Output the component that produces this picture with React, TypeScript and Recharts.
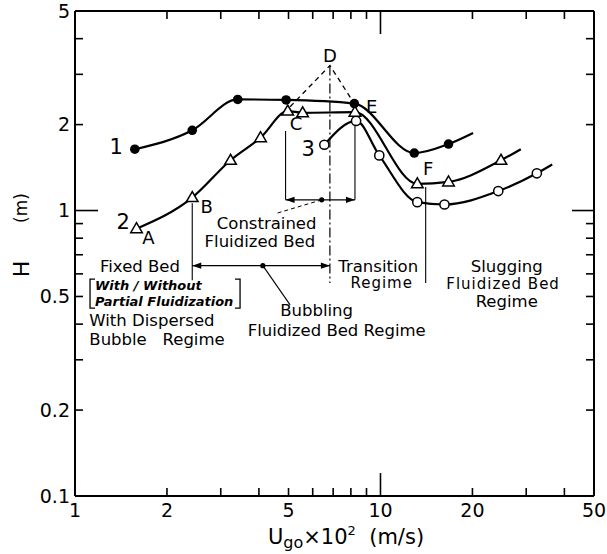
import React from 'react';
import { ComposedChart, Line, XAxis, YAxis, ReferenceDot } from 'recharts';

const FONT = '"DejaVu Sans", "Liberation Sans", Arial, sans-serif';

// axis ticks (log-log)
const xTicks = [1, 2, 3, 4, 5, 6, 7, 8, 9, 10, 20, 30, 40, 50];
const xLabels = [1, 2, 5, 10, 20, 50];
const yTicks = [0.1, 0.2, 0.3, 0.4, 0.5, 0.6, 0.7, 0.8, 0.9, 1, 2, 3, 4, 5];
const yLabels = [0.1, 0.2, 0.5, 1, 2, 5];

// curve 1 (filled circles), curve 2 (triangles), curve 3 (open circles)
const curve1 = [
  { x: 1.57, y: 1.64 }, { x: 2.42, y: 1.91 }, { x: 3.41, y: 2.45 }, { x: 4.91, y: 2.44 },
  { x: 8.21, y: 2.37 }, { x: 12.9, y: 1.59 }, { x: 16.7, y: 1.71 }, { x: 20.1, y: 1.87 },
];
const curve2 = [
  { x: 1.59, y: 0.864 }, { x: 2.42, y: 1.11 }, { x: 3.23, y: 1.5 }, { x: 4.05, y: 1.8 },
  { x: 4.97, y: 2.23 }, { x: 5.56, y: 2.2 }, { x: 8.25, y: 2.21 }, { x: 13.2, y: 1.24 },
  { x: 16.7, y: 1.26 }, { x: 24.8, y: 1.5 }, { x: 28.8, y: 1.64 },
];
const curve3 = [
  { x: 6.55, y: 1.7 }, { x: 8.32, y: 2.06 }, { x: 9.91, y: 1.56 }, { x: 13.2, y: 1.07 },
  { x: 16.2, y: 1.05 }, { x: 24.3, y: 1.17 }, { x: 32.5, y: 1.35 }, { x: 36.5, y: 1.45 },
];

// construction lines
const peakD = [{ x: 5.06, y: 2.31 }, { x: 6.83, y: 3.22 }, { x: 8.21, y: 2.37 }];
const dropD = [{ x: 6.83, y: 3.22 }, { x: 6.83, y: 0.557 }];
const guides = [
  [{ x: 2.42, y: 1.06 }, { x: 2.42, y: 0.57 }],
  [{ x: 4.89, y: 1.9 }, { x: 4.89, y: 1.09 }],
  [{ x: 8.25, y: 2.03 }, { x: 8.25, y: 1.09 }],
  [{ x: 14.06, y: 1.21 }, { x: 14.06, y: 0.557 }],
  [{ x: 4.12, y: 0.641 }, { x: 5.06, y: 0.467 }],
];
const constrainedLeader = [{ x: 6.42, y: 1.09 }, { x: 4.57, y: 0.978 }];
const arrows = [
  [{ x: 4.89, y: 1.09 }, { x: 8.25, y: 1.09 }],
  [{ x: 2.42, y: 0.641 }, { x: 6.83, y: 0.641 }],
];
const arrowCenters = [{ x: 6.42, y: 1.09 }, { x: 4.12, y: 0.641 }];
const brackets = [
  [{ x: 1.163, y: 0.575 }, { x: 1.12, y: 0.575 }, { x: 1.12, y: 0.455 }, { x: 1.163, y: 0.455 }],
  [{ x: 3.34, y: 0.575 }, { x: 3.47, y: 0.575 }, { x: 3.47, y: 0.455 }, { x: 3.34, y: 0.455 }],
];

// text annotations
const curveTags = [
  { x: 1.363, y: 1.669, t: '1' },
  { x: 1.439, y: 0.914, t: '2' },
  { x: 5.8, y: 1.64, t: '3' },
];
const pointTags = [
  { x: 1.738, y: 0.806, t: 'A' },
  { x: 2.7, y: 1.037, t: 'B' },
  { x: 5.29, y: 2.01, t: 'C' },
  { x: 6.83, y: 3.5, t: 'D' },
  { x: 9.36, y: 2.31, t: 'E' },
  { x: 14.34, y: 1.405, t: 'F' },
];
const regionTexts = [
  { x: 4.24, y: 0.902, t: 'Constrained' },
  { x: 4.03, y: 0.777, t: 'Fluidized Bed' },
  { x: 1.632, y: 0.636, t: 'Fixed Bed' },
  { x: 6.18, y: 0.446, t: 'Bubbling' },
  { x: 7.19, y: 0.381, t: 'Fluidized Bed Regime' },
  { x: 9.83, y: 0.639, t: 'Transition' },
  { x: 25.9, y: 0.639, t: 'Slugging' },
  { x: 25.9, y: 0.479, t: 'Regime' },
];
const smallTexts = [
  { x: 10.09, y: 0.556, t: 'Regime' },
  { x: 25.2, y: 0.551, t: 'Fluidized Bed' },
];
const leftTexts = [
  { x: 1.114, y: 0.4135, t: 'With Dispersed' },
  { x: 1.114, y: 0.352, t: 'Bubble   Regime' },
];
const boldTexts = [
  { x: 1.163, y: 0.548, t: 'With / Without' },
  { x: 1.163, y: 0.482, t: 'Partial Fluidization' },
];

const textShape = (t: string, size: number, anchor: string, extra: any = {}) => (p: any) => (
  <text
    x={p.cx}
    y={p.cy}
    textAnchor={anchor}
    dominantBaseline="central"
    fontSize={size}
    fontFamily={FONT}
    fill="#000"
    style={{ whiteSpace: 'pre' }}
    {...extra}
  >
    {t}
  </text>
);

const filledDot = (last: number) => (p: any) =>
  p.index === last ? <g key={`f${p.index}`} /> : <circle key={`f${p.index}`} cx={p.cx} cy={p.cy} r={4.8} fill="#000" />;

const openDot = (last: number) => (p: any) =>
  p.index === last ? <g key={`o${p.index}`} /> : (
    <circle key={`o${p.index}`} cx={p.cx} cy={p.cy} r={4.6} fill="#fff" stroke="#000" strokeWidth={1.5} />
  );

const triDot = (last: number) => (p: any) =>
  p.index === last ? <g key={`t${p.index}`} /> : (
    <path
      key={`t${p.index}`}
      d={`M${p.cx},${p.cy - 6} L${p.cx - 5.8},${p.cy + 4} L${p.cx + 5.8},${p.cy + 4} Z`}
      fill="#fff"
      stroke="#000"
      strokeWidth={1.5}
    />
  );

const arrowDot = (p: any) => {
  const dir = p.index === 0 ? -1 : 1;
  return (
    <path
      key={`a${p.index}`}
      d={`M${p.cx},${p.cy} L${p.cx - dir * 9},${p.cy - 3.2} L${p.cx - dir * 9},${p.cy + 3.2} Z`}
      fill="#000"
    />
  );
};

const BottomTick = (props: any) => {
  const { x, y, payload } = props;
  const v = payload.value;
  const len = v === 10 ? 23 : 8;
  return (
    <g>
      {v !== 1 && v !== 50 && <line x1={x} x2={x} y1={y} y2={y - len} stroke="#000" strokeWidth={1.6} />}
      {xLabels.includes(v) && (
        <text x={x} y={y + 21} textAnchor="middle" fontSize={19} fontFamily={FONT} fill="#000">
          {v}
        </text>
      )}
    </g>
  );
};

const TopTick = (props: any) => {
  const { x, y, payload } = props;
  const v = payload.value;
  if (v === 1 || v === 50) return <g />;
  const len = v === 10 ? 23 : 8;
  return <line x1={x} x2={x} y1={y} y2={y + len} stroke="#000" strokeWidth={1.6} />;
};

const LeftTick = (props: any) => {
  const { x, y, payload } = props;
  const v = payload.value;
  const len = v === 1 ? 23 : 8;
  return (
    <g>
      {v !== 0.1 && v !== 5 && <line x1={x} x2={x + len} y1={y} y2={y} stroke="#000" strokeWidth={1.6} />}
      {yLabels.includes(v) && (
        <text x={x - 5} y={y} dy="0.36em" textAnchor="end" fontSize={19} fontFamily={FONT} fill="#000">
          {v}
        </text>
      )}
    </g>
  );
};

const RightTick = (props: any) => {
  const { x, y, payload } = props;
  const v = payload.value;
  if (v === 0.1 || v === 5) return <g />;
  const len = v === 1 ? 22 : 8;
  return <line x1={x} x2={x - len} y1={y} y2={y} stroke="#000" strokeWidth={1.6} />;
};

const frame = { stroke: '#000', strokeWidth: 2 };

export default function App() {
  return (
    <div style={{ position: 'absolute', left: 0, top: 0, width: 607, height: 554, background: '#fff' }}>
      <ComposedChart width={607} height={554} margin={{ top: 10, right: 12, bottom: 0, left: 0 }}>
        <XAxis
          xAxisId={0}
          dataKey="x"
          type="number"
          scale="log"
          domain={[1, 50]}
          allowDataOverflow
          ticks={xTicks}
          interval={0}
          height={58}
          tickSize={0}
          tickMargin={0}
          tickLine={false}
          axisLine={frame}
          tick={(p: any) => <BottomTick {...p} />}
        />
        <XAxis
          xAxisId="top"
          orientation="top"
          dataKey="x"
          type="number"
          scale="log"
          domain={[1, 50]}
          allowDataOverflow
          ticks={xTicks}
          interval={0}
          height={1}
          tickSize={0}
          tickMargin={0}
          tickLine={false}
          axisLine={frame}
          tick={(p: any) => <TopTick {...p} />}
        />
        <YAxis
          yAxisId={0}
          type="number"
          scale="log"
          domain={[0.1, 5]}
          allowDataOverflow
          ticks={yTicks}
          interval={0}
          width={75}
          tickSize={0}
          tickMargin={0}
          tickLine={false}
          axisLine={frame}
          tick={(p: any) => <LeftTick {...p} />}
        />
        <YAxis
          yAxisId="right"
          orientation="right"
          type="number"
          scale="log"
          domain={[0.1, 5]}
          allowDataOverflow
          ticks={yTicks}
          interval={0}
          width={1}
          tickSize={0}
          tickMargin={0}
          tickLine={false}
          axisLine={frame}
          tick={(p: any) => <RightTick {...p} />}
        />

        {guides.map((g, i) => (
          <Line key={`g${i}`} data={g} dataKey="y" type="linear" stroke="#000" strokeWidth={1.1} dot={false} activeDot={false} isAnimationActive={false} />
        ))}
        {brackets.map((g, i) => (
          <Line key={`b${i}`} data={g} dataKey="y" type="linear" stroke="#000" strokeWidth={1.3} dot={false} activeDot={false} isAnimationActive={false} />
        ))}
        <Line data={constrainedLeader} dataKey="y" type="linear" stroke="#000" strokeWidth={1} strokeDasharray="4 3" dot={false} activeDot={false} isAnimationActive={false} />
        <Line data={dropD} dataKey="y" type="linear" stroke="#000" strokeWidth={1.2} strokeDasharray="10 3 2 3" dot={false} activeDot={false} isAnimationActive={false} />
        <Line data={peakD} dataKey="y" type="linear" stroke="#000" strokeWidth={1.3} strokeDasharray="5 4" dot={false} activeDot={false} isAnimationActive={false} />
        {arrows.map((g, i) => (
          <Line key={`ar${i}`} data={g} dataKey="y" type="linear" stroke="#000" strokeWidth={1.3} dot={arrowDot} activeDot={false} isAnimationActive={false} />
        ))}

        <Line data={curve3} dataKey="y" type="monotone" stroke="#000" strokeWidth={2.2} dot={openDot(curve3.length - 1)} activeDot={false} isAnimationActive={false} />
        <Line data={curve2} dataKey="y" type="monotone" stroke="#000" strokeWidth={2.2} dot={triDot(curve2.length - 1)} activeDot={false} isAnimationActive={false} />
        <Line data={curve1} dataKey="y" type="monotone" stroke="#000" strokeWidth={2.2} dot={filledDot(curve1.length - 1)} activeDot={false} isAnimationActive={false} />

        {arrowCenters.map((c, i) => (
          <ReferenceDot key={`c${i}`} x={c.x} y={c.y} r={2.6} fill="#000" stroke="none" />
        ))}
        {curveTags.map((a, i) => (
          <ReferenceDot key={`ct${i}`} x={a.x} y={a.y} shape={textShape(a.t, 21, 'middle')} />
        ))}
        {pointTags.map((a, i) => (
          <ReferenceDot key={`pt${i}`} x={a.x} y={a.y} shape={textShape(a.t, 18, 'middle')} />
        ))}
        {regionTexts.map((a, i) => (
          <ReferenceDot key={`rt${i}`} x={a.x} y={a.y} shape={textShape(a.t, 16.5, 'middle')} />
        ))}
        {smallTexts.map((a, i) => (
          <ReferenceDot key={`st${i}`} x={a.x} y={a.y} shape={textShape(a.t, 15, 'middle', { letterSpacing: 1 })} />
        ))}
        {leftTexts.map((a, i) => (
          <ReferenceDot key={`lt${i}`} x={a.x} y={a.y} shape={textShape(a.t, 16.5, 'start')} />
        ))}
        {boldTexts.map((a, i) => (
          <ReferenceDot key={`bt${i}`} x={a.x} y={a.y} shape={textShape(a.t, 13, 'start', { fontWeight: 'bold', fontStyle: 'italic' })} />
        ))}
      </ComposedChart>

      <svg width={607} height={554} style={{ position: 'absolute', left: 0, top: 0, pointerEvents: 'none' }}>
        <text x={346} y={544} textAnchor="middle" fontSize={21} fontFamily={FONT} fill="#000">
          U<tspan fontSize={16} dy={4}>go</tspan>
          <tspan dy={-4}>×10</tspan>
          <tspan fontSize={13} dy={-9}>2</tspan>
          <tspan dy={9} style={{ whiteSpace: 'pre' }}>{'  (m/s)'}</tspan>
        </text>
        <text x={21} y={269} transform="rotate(-90 21 269)" textAnchor="middle" dominantBaseline="central" fontSize={22} fontFamily={FONT} fill="#000">
          H
        </text>
        <text x={21} y={208} transform="rotate(-90 21 208)" textAnchor="middle" dominantBaseline="central" fontSize={17} fontFamily={FONT} fill="#000">
          (m)
        </text>
      </svg>
    </div>
  );
}
